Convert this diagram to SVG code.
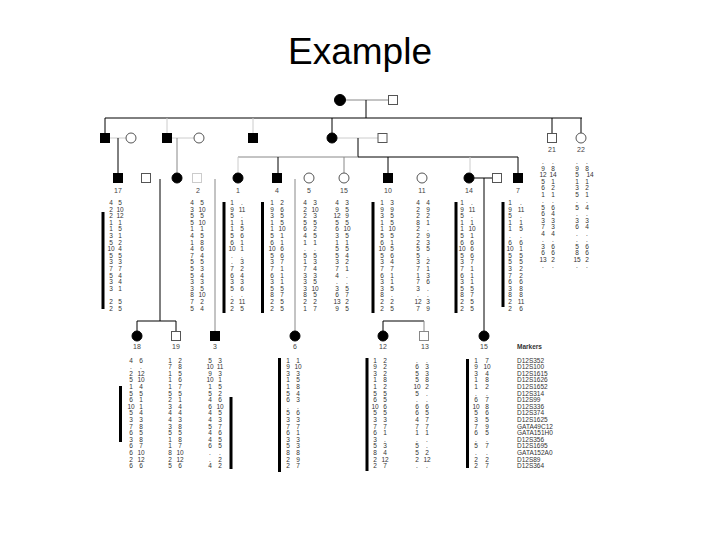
<svg xmlns="http://www.w3.org/2000/svg" width="720" height="540" viewBox="0 0 720 540">
<style>
.t{font-family:"Liberation Sans",Arial,sans-serif;font-size:37px;fill:#000;text-anchor:middle}
.d{font-family:"Liberation Sans",Arial,sans-serif;font-size:6.5px;fill:#333;text-anchor:middle}
.m{font-family:"Liberation Sans",Arial,sans-serif;font-size:6.5px;fill:#333}
.l{font-family:"Liberation Sans",Arial,sans-serif;font-size:7px;fill:#444;text-anchor:middle}
.f{fill:#000;stroke:#000;stroke-width:1}
.o{fill:#fff;stroke:#555;stroke-width:1}
.k{stroke:#000;stroke-width:1;fill:none}
.g{stroke:#888;stroke-width:1;fill:none}
.lg{stroke:#ccc;stroke-width:1;fill:none}
.bar{fill:#000}
</style>
<rect width="720" height="540" fill="#fff"/>
<text class="t" x="360" y="64">Example</text>

<g id="connectors">
<line class="g" x1="346" y1="100" x2="388" y2="100"/>
<line class="k" x1="366" y1="100" x2="366" y2="118"/>
<line class="k" x1="105" y1="118" x2="582" y2="118"/>
<line class="k" x1="105" y1="118" x2="105" y2="133"/>
<line class="lg" x1="167" y1="118" x2="167" y2="133"/>
<line class="lg" x1="253" y1="118" x2="253" y2="133"/>
<line class="k" x1="332" y1="118" x2="332" y2="133"/>
<line class="k" x1="552" y1="118" x2="552" y2="133"/>
<line class="k" x1="581" y1="118" x2="581" y2="133"/>
<line class="lg" x1="110" y1="138" x2="126" y2="138"/>
<line class="lg" x1="172" y1="138" x2="194" y2="138"/>
<line class="lg" x1="337" y1="138" x2="378" y2="138"/>
<line class="k" x1="118" y1="138" x2="118" y2="174"/>
<line class="g" x1="177" y1="138" x2="177" y2="173"/>
<line class="k" x1="358" y1="138" x2="358" y2="157"/>
<line class="g" x1="238" y1="157" x2="358" y2="157"/>
<line class="k" x1="358" y1="157" x2="518" y2="157"/>
<line class="lg" x1="238" y1="157" x2="238" y2="173"/>
<line class="k" x1="278" y1="157" x2="278" y2="174"/>
<line class="g" x1="344" y1="157" x2="344" y2="173"/>
<line class="k" x1="388" y1="157" x2="388" y2="174"/>
<line class="lg" x1="470" y1="157" x2="470" y2="173"/>
<line class="k" x1="518" y1="157" x2="518" y2="174"/>
<line class="k" x1="474" y1="178" x2="493" y2="178"/>
<line class="k" x1="484" y1="178" x2="484" y2="331"/>
<line class="k" x1="160" y1="179" x2="160" y2="321"/>
<line class="k" x1="137" y1="321" x2="176" y2="321"/>
<line class="k" x1="137" y1="321" x2="137" y2="331"/>
<line class="k" x1="176" y1="321" x2="176" y2="332"/>
<line class="g" x1="215" y1="179" x2="215" y2="332"/>
<line class="g" x1="295" y1="179" x2="295" y2="331"/>
<line class="k" x1="383" y1="321" x2="383" y2="331"/>
<line class="k" x1="383" y1="321" x2="424" y2="321"/>
<line class="g" x1="424" y1="321" x2="424" y2="332"/>
</g>

<g id="gen1">
<circle class="f" cx="340" cy="100" r="5.5"/>
<rect class="o" x="388.5" y="95.5" width="9" height="9"/>
</g>

<g id="gen2">
<rect class="f" x="100.5" y="133.5" width="9" height="9"/>
<circle class="o" cx="131" cy="138" r="5"/>
<rect class="f" x="162.5" y="133.5" width="9" height="9"/>
<circle class="o" cx="199" cy="138" r="5"/>
<rect class="f" x="248.5" y="133.5" width="9" height="9"/>
<circle class="f" cx="332" cy="138" r="5"/>
<rect class="o" x="378" y="133.5" width="9" height="9"/>
<g id="p21"><rect class="o" x="547.5" y="133.5" width="9" height="9"/><text class="l" x="552" y="152">21</text>
<text class="d"><tspan x="543" y="164">.</tspan><tspan x="543" dy="6.5">9</tspan><tspan x="543" dy="6.5">12</tspan><tspan x="543" dy="6.5">5</tspan><tspan x="543" dy="6.5">6</tspan><tspan x="543" dy="6.5">1</tspan><tspan x="543" dy="6.5">.</tspan><tspan x="543" dy="6.5">5</tspan><tspan x="543" dy="6.5">6</tspan><tspan x="543" dy="6.5">3</tspan><tspan x="543" dy="6.5">7</tspan><tspan x="543" dy="6.5">4</tspan><tspan x="543" dy="6.5">.</tspan><tspan x="543" dy="6.5">3</tspan><tspan x="543" dy="6.5">6</tspan><tspan x="543" dy="6.5">13</tspan><tspan x="543" dy="6.5">.</tspan></text>
<text class="d"><tspan x="553" y="164">.</tspan><tspan x="553" dy="6.5">8</tspan><tspan x="553" dy="6.5">14</tspan><tspan x="553" dy="6.5">1</tspan><tspan x="553" dy="6.5">2</tspan><tspan x="553" dy="6.5">1</tspan><tspan x="553" dy="6.5">.</tspan><tspan x="553" dy="6.5">6</tspan><tspan x="553" dy="6.5">4</tspan><tspan x="553" dy="6.5">3</tspan><tspan x="553" dy="6.5">3</tspan><tspan x="553" dy="6.5">4</tspan><tspan x="553" dy="6.5">.</tspan><tspan x="553" dy="6.5">6</tspan><tspan x="553" dy="6.5">6</tspan><tspan x="553" dy="6.5">2</tspan><tspan x="553" dy="6.5">.</tspan></text></g>
<g id="p22"><circle class="o" cx="581" cy="138" r="5"/><text class="l" x="581" y="152">22</text>
<text class="d"><tspan x="577" y="164">.</tspan><tspan x="577" dy="6.5">9</tspan><tspan x="577" dy="6.5">5</tspan><tspan x="577" dy="6.5">1</tspan><tspan x="577" dy="6.5">3</tspan><tspan x="577" dy="6.5">5</tspan><tspan x="577" dy="6.5">.</tspan><tspan x="577" dy="6.5">5</tspan><tspan x="577" dy="6.5">.</tspan><tspan x="577" dy="6.5">3</tspan><tspan x="577" dy="6.5">6</tspan><tspan x="577" dy="6.5">.</tspan><tspan x="577" dy="6.5">.</tspan><tspan x="577" dy="6.5">5</tspan><tspan x="577" dy="6.5">8</tspan><tspan x="577" dy="6.5">15</tspan><tspan x="577" dy="6.5">.</tspan></text>
<text class="d"><tspan x="587" y="164">.</tspan><tspan x="587" dy="6.5">8</tspan><tspan x="590" dy="6.5">14</tspan><tspan x="587" dy="6.5">1</tspan><tspan x="587" dy="6.5">2</tspan><tspan x="587" dy="6.5">1</tspan><tspan x="587" dy="6.5">.</tspan><tspan x="587" dy="6.5">4</tspan><tspan x="587" dy="6.5">.</tspan><tspan x="587" dy="6.5">3</tspan><tspan x="587" dy="6.5">4</tspan><tspan x="587" dy="6.5">.</tspan><tspan x="587" dy="6.5">.</tspan><tspan x="587" dy="6.5">6</tspan><tspan x="587" dy="6.5">6</tspan><tspan x="587" dy="6.5">2</tspan><tspan x="587" dy="6.5">.</tspan></text></g>
</g>

<g id="gen3">
<g id="p17"><rect class="f" x="113.5" y="173.5" width="9" height="9"/><text class="l" x="118" y="193">17</text>
<rect class="bar" x="101.5" y="212" width="3" height="97"/>
<text class="d"><tspan x="111" y="205">4</tspan><tspan x="111" dy="6.6">2</tspan><tspan x="111" dy="6.6">2</tspan><tspan x="111" dy="6.6">1</tspan><tspan x="111" dy="6.6">1</tspan><tspan x="111" dy="6.6">3</tspan><tspan x="111" dy="6.6">5</tspan><tspan x="111" dy="6.6">10</tspan><tspan x="111" dy="6.6">5</tspan><tspan x="111" dy="6.6">3</tspan><tspan x="111" dy="6.6">7</tspan><tspan x="111" dy="6.6">5</tspan><tspan x="111" dy="6.6">3</tspan><tspan x="111" dy="6.6">3</tspan><tspan x="111" dy="6.6"> </tspan><tspan x="111" dy="6.6">2</tspan><tspan x="111" dy="6.6">2</tspan></text>
<text class="d"><tspan x="120" y="205">5</tspan><tspan x="120" dy="6.6">10</tspan><tspan x="120" dy="6.6">12</tspan><tspan x="120" dy="6.6">1</tspan><tspan x="120" dy="6.6">5</tspan><tspan x="120" dy="6.6">1</tspan><tspan x="120" dy="6.6">2</tspan><tspan x="120" dy="6.6">4</tspan><tspan x="120" dy="6.6">5</tspan><tspan x="120" dy="6.6">3</tspan><tspan x="120" dy="6.6">7</tspan><tspan x="120" dy="6.6">4</tspan><tspan x="120" dy="6.6">4</tspan><tspan x="120" dy="6.6">1</tspan><tspan x="120" dy="6.6"> </tspan><tspan x="120" dy="6.6">5</tspan><tspan x="120" dy="6.6">5</tspan></text></g>
<rect class="o" x="141.5" y="173.5" width="9" height="9"/>
<circle class="f" cx="177" cy="178" r="5"/>
<g id="p2"><rect class="lg" x="192.5" y="173.5" width="9" height="9"/><text class="l" x="198" y="193">2</text>
<text class="d"><tspan x="192" y="205">4</tspan><tspan x="192" dy="6.6">3</tspan><tspan x="192" dy="6.6">5</tspan><tspan x="192" dy="6.6">5</tspan><tspan x="192" dy="6.6">1</tspan><tspan x="192" dy="6.6">4</tspan><tspan x="192" dy="6.6">1</tspan><tspan x="192" dy="6.6">4</tspan><tspan x="192" dy="6.6">7</tspan><tspan x="192" dy="6.6">5</tspan><tspan x="192" dy="6.6">5</tspan><tspan x="192" dy="6.6">5</tspan><tspan x="192" dy="6.6">3</tspan><tspan x="192" dy="6.6">3</tspan><tspan x="192" dy="6.6">8</tspan><tspan x="192" dy="6.6">7</tspan><tspan x="192" dy="6.6">5</tspan></text>
<text class="d"><tspan x="202" y="205">5</tspan><tspan x="202" dy="6.6">10</tspan><tspan x="202" dy="6.6">5</tspan><tspan x="202" dy="6.6">10</tspan><tspan x="202" dy="6.6">1</tspan><tspan x="202" dy="6.6">5</tspan><tspan x="202" dy="6.6">8</tspan><tspan x="202" dy="6.6">6</tspan><tspan x="202" dy="6.6">4</tspan><tspan x="202" dy="6.6">5</tspan><tspan x="202" dy="6.6">3</tspan><tspan x="202" dy="6.6">4</tspan><tspan x="202" dy="6.6">3</tspan><tspan x="202" dy="6.6">5</tspan><tspan x="202" dy="6.6">10</tspan><tspan x="202" dy="6.6">2</tspan><tspan x="202" dy="6.6">4</tspan></text></g>
<g id="p1"><circle class="f" cx="238" cy="178" r="5"/><text class="l" x="238" y="193">1</text>
<rect class="bar" x="222.5" y="202" width="3" height="111"/>
<text class="d"><tspan x="232" y="205">1</tspan><tspan x="232" dy="6.6">9</tspan><tspan x="232" dy="6.6">5</tspan><tspan x="232" dy="6.6">1</tspan><tspan x="232" dy="6.6">1</tspan><tspan x="232" dy="6.6">5</tspan><tspan x="232" dy="6.6">6</tspan><tspan x="232" dy="6.6">10</tspan><tspan x="232" dy="6.6">.</tspan><tspan x="232" dy="6.6">.</tspan><tspan x="232" dy="6.6">7</tspan><tspan x="232" dy="6.6">6</tspan><tspan x="232" dy="6.6">3</tspan><tspan x="232" dy="6.6">5</tspan><tspan x="232" dy="6.6">.</tspan><tspan x="232" dy="6.6">2</tspan><tspan x="232" dy="6.6">2</tspan></text>
<text class="d"><tspan x="242" y="205">.</tspan><tspan x="242" dy="6.6">11</tspan><tspan x="242" dy="6.6">.</tspan><tspan x="242" dy="6.6">1</tspan><tspan x="242" dy="6.6">5</tspan><tspan x="242" dy="6.6">6</tspan><tspan x="242" dy="6.6">1</tspan><tspan x="242" dy="6.6">1</tspan><tspan x="242" dy="6.6">.</tspan><tspan x="242" dy="6.6">3</tspan><tspan x="242" dy="6.6">2</tspan><tspan x="242" dy="6.6">4</tspan><tspan x="242" dy="6.6">3</tspan><tspan x="242" dy="6.6">6</tspan><tspan x="242" dy="6.6">.</tspan><tspan x="242" dy="6.6">11</tspan><tspan x="242" dy="6.6">5</tspan></text></g>
<g id="p4"><rect class="f" x="272.5" y="173.5" width="9" height="9"/><text class="l" x="277" y="193">4</text>
<rect class="bar" x="261" y="202" width="3" height="111"/>
<text class="d"><tspan x="272" y="205">1</tspan><tspan x="272" dy="6.6">9</tspan><tspan x="272" dy="6.6">3</tspan><tspan x="272" dy="6.6">1</tspan><tspan x="272" dy="6.6">1</tspan><tspan x="272" dy="6.6">5</tspan><tspan x="272" dy="6.6">6</tspan><tspan x="272" dy="6.6">10</tspan><tspan x="272" dy="6.6">5</tspan><tspan x="272" dy="6.6">3</tspan><tspan x="272" dy="6.6">7</tspan><tspan x="272" dy="6.6">6</tspan><tspan x="272" dy="6.6">3</tspan><tspan x="272" dy="6.6">5</tspan><tspan x="272" dy="6.6">8</tspan><tspan x="272" dy="6.6">2</tspan><tspan x="272" dy="6.6">2</tspan></text>
<text class="d"><tspan x="282" y="205">2</tspan><tspan x="282" dy="6.6">6</tspan><tspan x="282" dy="6.6">5</tspan><tspan x="282" dy="6.6">5</tspan><tspan x="282" dy="6.6">10</tspan><tspan x="282" dy="6.6">1</tspan><tspan x="282" dy="6.6">1</tspan><tspan x="282" dy="6.6">6</tspan><tspan x="282" dy="6.6">6</tspan><tspan x="282" dy="6.6">7</tspan><tspan x="282" dy="6.6">1</tspan><tspan x="282" dy="6.6">1</tspan><tspan x="282" dy="6.6">1</tspan><tspan x="282" dy="6.6">5</tspan><tspan x="282" dy="6.6">7</tspan><tspan x="282" dy="6.6">5</tspan><tspan x="282" dy="6.6">5</tspan></text></g>
<g id="p5"><circle class="o" cx="309" cy="178" r="5"/><text class="l" x="309" y="193">5</text>
<text class="d"><tspan x="305" y="205">4</tspan><tspan x="305" dy="6.6">2</tspan><tspan x="305" dy="6.6">2</tspan><tspan x="305" dy="6.6">5</tspan><tspan x="305" dy="6.6">6</tspan><tspan x="305" dy="6.6">4</tspan><tspan x="305" dy="6.6">1</tspan><tspan x="305" dy="6.6">.</tspan><tspan x="305" dy="6.6">5</tspan><tspan x="305" dy="6.6">1</tspan><tspan x="305" dy="6.6">7</tspan><tspan x="305" dy="6.6">3</tspan><tspan x="305" dy="6.6">3</tspan><tspan x="305" dy="6.6">3</tspan><tspan x="305" dy="6.6">8</tspan><tspan x="305" dy="6.6">2</tspan><tspan x="305" dy="6.6">1</tspan></text>
<text class="d"><tspan x="315" y="205">3</tspan><tspan x="315" dy="6.6">10</tspan><tspan x="315" dy="6.6">3</tspan><tspan x="315" dy="6.6">5</tspan><tspan x="315" dy="6.6">2</tspan><tspan x="315" dy="6.6">5</tspan><tspan x="315" dy="6.6">1</tspan><tspan x="315" dy="6.6">.</tspan><tspan x="315" dy="6.6">5</tspan><tspan x="315" dy="6.6">3</tspan><tspan x="315" dy="6.6">4</tspan><tspan x="315" dy="6.6">3</tspan><tspan x="315" dy="6.6">5</tspan><tspan x="315" dy="6.6">10</tspan><tspan x="315" dy="6.6">5</tspan><tspan x="315" dy="6.6">2</tspan><tspan x="315" dy="6.6">7</tspan></text></g>
<g id="p15a"><circle class="o" cx="344" cy="178" r="5"/><text class="l" x="344" y="193">15</text>
<text class="d"><tspan x="337" y="205">4</tspan><tspan x="337" dy="6.6">9</tspan><tspan x="337" dy="6.6">12</tspan><tspan x="337" dy="6.6">5</tspan><tspan x="337" dy="6.6">6</tspan><tspan x="337" dy="6.6">3</tspan><tspan x="337" dy="6.6">1</tspan><tspan x="337" dy="6.6">5</tspan><tspan x="337" dy="6.6">5</tspan><tspan x="337" dy="6.6">3</tspan><tspan x="337" dy="6.6">7</tspan><tspan x="337" dy="6.6">4</tspan><tspan x="337" dy="6.6">.</tspan><tspan x="337" dy="6.6">3</tspan><tspan x="337" dy="6.6">6</tspan><tspan x="337" dy="6.6">13</tspan><tspan x="337" dy="6.6">9</tspan></text>
<text class="d"><tspan x="347" y="205">3</tspan><tspan x="347" dy="6.6">5</tspan><tspan x="347" dy="6.6">9</tspan><tspan x="347" dy="6.6">5</tspan><tspan x="347" dy="6.6">10</tspan><tspan x="347" dy="6.6">5</tspan><tspan x="347" dy="6.6">1</tspan><tspan x="347" dy="6.6">5</tspan><tspan x="347" dy="6.6">4</tspan><tspan x="347" dy="6.6">2</tspan><tspan x="347" dy="6.6">1</tspan><tspan x="347" dy="6.6">.</tspan><tspan x="347" dy="6.6">.</tspan><tspan x="347" dy="6.6">5</tspan><tspan x="347" dy="6.6">7</tspan><tspan x="347" dy="6.6">2</tspan><tspan x="347" dy="6.6">5</tspan></text></g>
<g id="p10"><rect class="f" x="383.5" y="173.5" width="9" height="9"/><text class="l" x="388" y="193">10</text>
<rect class="bar" x="371.5" y="202" width="3" height="111"/>
<text class="d"><tspan x="382" y="205">1</tspan><tspan x="382" dy="6.6">9</tspan><tspan x="382" dy="6.6">3</tspan><tspan x="382" dy="6.6">1</tspan><tspan x="382" dy="6.6">1</tspan><tspan x="382" dy="6.6">5</tspan><tspan x="382" dy="6.6">6</tspan><tspan x="382" dy="6.6">10</tspan><tspan x="382" dy="6.6">5</tspan><tspan x="382" dy="6.6">3</tspan><tspan x="382" dy="6.6">7</tspan><tspan x="382" dy="6.6">6</tspan><tspan x="382" dy="6.6">3</tspan><tspan x="382" dy="6.6">3</tspan><tspan x="382" dy="6.6">8</tspan><tspan x="382" dy="6.6">2</tspan><tspan x="382" dy="6.6">2</tspan></text>
<text class="d"><tspan x="392" y="205">3</tspan><tspan x="392" dy="6.6">9</tspan><tspan x="392" dy="6.6">5</tspan><tspan x="392" dy="6.6">5</tspan><tspan x="392" dy="6.6">10</tspan><tspan x="392" dy="6.6">5</tspan><tspan x="392" dy="6.6">1</tspan><tspan x="392" dy="6.6">5</tspan><tspan x="392" dy="6.6">6</tspan><tspan x="392" dy="6.6">4</tspan><tspan x="392" dy="6.6">7</tspan><tspan x="392" dy="6.6">1</tspan><tspan x="392" dy="6.6">1</tspan><tspan x="392" dy="6.6">5</tspan><tspan x="392" dy="6.6">.</tspan><tspan x="392" dy="6.6">2</tspan><tspan x="392" dy="6.6">5</tspan></text></g>
<g id="p11"><circle class="o" cx="422" cy="178" r="5"/><text class="l" x="422" y="193">11</text>
<text class="d"><tspan x="418" y="205">4</tspan><tspan x="418" dy="6.6">2</tspan><tspan x="418" dy="6.6">2</tspan><tspan x="418" dy="6.6">8</tspan><tspan x="418" dy="6.6">2</tspan><tspan x="418" dy="6.6">2</tspan><tspan x="418" dy="6.6">2</tspan><tspan x="418" dy="6.6">5</tspan><tspan x="418" dy="6.6">5</tspan><tspan x="418" dy="6.6">3</tspan><tspan x="418" dy="6.6">7</tspan><tspan x="418" dy="6.6">1</tspan><tspan x="418" dy="6.6">7</tspan><tspan x="418" dy="6.6">3</tspan><tspan x="418" dy="6.6">.</tspan><tspan x="418" dy="6.6">12</tspan><tspan x="418" dy="6.6">7</tspan></text>
<text class="d"><tspan x="428" y="205">4</tspan><tspan x="428" dy="6.6">9</tspan><tspan x="428" dy="6.6">2</tspan><tspan x="428" dy="6.6">1</tspan><tspan x="428" dy="6.6">.</tspan><tspan x="428" dy="6.6">9</tspan><tspan x="428" dy="6.6">3</tspan><tspan x="428" dy="6.6">5</tspan><tspan x="428" dy="6.6">.</tspan><tspan x="428" dy="6.6">2</tspan><tspan x="428" dy="6.6">1</tspan><tspan x="428" dy="6.6">3</tspan><tspan x="428" dy="6.6">6</tspan><tspan x="428" dy="6.6">.</tspan><tspan x="428" dy="6.6">.</tspan><tspan x="428" dy="6.6">3</tspan><tspan x="428" dy="6.6">9</tspan></text></g>
<g id="p14"><circle class="f" cx="469" cy="178" r="5"/><text class="l" x="469" y="193">14</text>
<rect class="bar" x="454.5" y="202" width="3" height="111"/>
<text class="d"><tspan x="462" y="205">1</tspan><tspan x="462" dy="6.6">9</tspan><tspan x="462" dy="6.6">5</tspan><tspan x="462" dy="6.6">1</tspan><tspan x="462" dy="6.6">1</tspan><tspan x="462" dy="6.6">5</tspan><tspan x="462" dy="6.6">6</tspan><tspan x="462" dy="6.6">10</tspan><tspan x="462" dy="6.6">5</tspan><tspan x="462" dy="6.6">3</tspan><tspan x="462" dy="6.6">7</tspan><tspan x="462" dy="6.6">6</tspan><tspan x="462" dy="6.6">3</tspan><tspan x="462" dy="6.6">5</tspan><tspan x="462" dy="6.6">8</tspan><tspan x="462" dy="6.6">2</tspan><tspan x="462" dy="6.6">2</tspan></text>
<text class="d"><tspan x="472" y="205">.</tspan><tspan x="472" dy="6.6">11</tspan><tspan x="472" dy="6.6">.</tspan><tspan x="472" dy="6.6">1</tspan><tspan x="472" dy="6.6">10</tspan><tspan x="472" dy="6.6">1</tspan><tspan x="472" dy="6.6">6</tspan><tspan x="472" dy="6.6">6</tspan><tspan x="472" dy="6.6">6</tspan><tspan x="472" dy="6.6">7</tspan><tspan x="472" dy="6.6">1</tspan><tspan x="472" dy="6.6">1</tspan><tspan x="472" dy="6.6">1</tspan><tspan x="472" dy="6.6">5</tspan><tspan x="472" dy="6.6">7</tspan><tspan x="472" dy="6.6">5</tspan><tspan x="472" dy="6.6">5</tspan></text></g>
<rect class="o" x="492.5" y="173.5" width="9" height="9"/>
<g id="p7"><rect class="f" x="513.5" y="173.5" width="9" height="9"/><text class="l" x="518" y="193">7</text>
<rect class="bar" x="501.5" y="202" width="3" height="105"/>
<text class="d"><tspan x="510" y="205">1</tspan><tspan x="510" dy="6.6">9</tspan><tspan x="510" dy="6.6">5</tspan><tspan x="510" dy="6.6">1</tspan><tspan x="510" dy="6.6">1</tspan><tspan x="510" dy="6.6">.</tspan><tspan x="510" dy="6.6">6</tspan><tspan x="510" dy="6.6">10</tspan><tspan x="510" dy="6.6">5</tspan><tspan x="510" dy="6.6">5</tspan><tspan x="510" dy="6.6">3</tspan><tspan x="510" dy="6.6">7</tspan><tspan x="510" dy="6.6">6</tspan><tspan x="510" dy="6.6">3</tspan><tspan x="510" dy="6.6">8</tspan><tspan x="510" dy="6.6">2</tspan><tspan x="510" dy="6.6">2</tspan></text>
<text class="d"><tspan x="521" y="205">.</tspan><tspan x="521" dy="6.6">11</tspan><tspan x="521" dy="6.6">.</tspan><tspan x="521" dy="6.6">1</tspan><tspan x="521" dy="6.6">5</tspan><tspan x="521" dy="6.6">.</tspan><tspan x="521" dy="6.6">6</tspan><tspan x="521" dy="6.6">1</tspan><tspan x="521" dy="6.6">5</tspan><tspan x="521" dy="6.6">5</tspan><tspan x="521" dy="6.6">2</tspan><tspan x="521" dy="6.6">2</tspan><tspan x="521" dy="6.6">6</tspan><tspan x="521" dy="6.6">8</tspan><tspan x="521" dy="6.6">8</tspan><tspan x="521" dy="6.6">11</tspan><tspan x="521" dy="6.6">6</tspan></text></g>
</g>

<g id="gen4">
<g id="p18"><circle class="f" cx="137" cy="336" r="5"/><text class="l" x="137" y="349">18</text>
<rect class="bar" x="119" y="386" width="3" height="56"/>
<text class="d"><tspan x="131" y="362.5">4</tspan><tspan x="131" dy="6.6">.</tspan><tspan x="131" dy="6.6">2</tspan><tspan x="131" dy="6.6">5</tspan><tspan x="131" dy="6.6">1</tspan><tspan x="131" dy="6.6">5</tspan><tspan x="131" dy="6.6">6</tspan><tspan x="131" dy="6.6">10</tspan><tspan x="131" dy="6.6">5</tspan><tspan x="131" dy="6.6">3</tspan><tspan x="131" dy="6.6">7</tspan><tspan x="131" dy="6.6">6</tspan><tspan x="131" dy="6.6">3</tspan><tspan x="131" dy="6.6">6</tspan><tspan x="131" dy="6.6">6</tspan><tspan x="131" dy="6.6">2</tspan><tspan x="131" dy="6.6">6</tspan></text>
<text class="d"><tspan x="141" y="362.5">6</tspan><tspan x="141" dy="6.6">.</tspan><tspan x="141" dy="6.6">12</tspan><tspan x="141" dy="6.6">10</tspan><tspan x="141" dy="6.6">4</tspan><tspan x="141" dy="6.6">5</tspan><tspan x="141" dy="6.6">1</tspan><tspan x="141" dy="6.6">1</tspan><tspan x="141" dy="6.6">4</tspan><tspan x="141" dy="6.6">3</tspan><tspan x="141" dy="6.6">8</tspan><tspan x="141" dy="6.6">5</tspan><tspan x="141" dy="6.6">8</tspan><tspan x="141" dy="6.6">7</tspan><tspan x="141" dy="6.6">10</tspan><tspan x="141" dy="6.6">12</tspan><tspan x="141" dy="6.6">6</tspan></text></g>
<g id="p19"><rect class="o" x="171.5" y="331.5" width="9" height="9"/><text class="l" x="176" y="349">19</text>
<text class="d"><tspan x="170" y="362.5">1</tspan><tspan x="170" dy="6.6">7</tspan><tspan x="170" dy="6.6">1</tspan><tspan x="170" dy="6.6">1</tspan><tspan x="170" dy="6.6">1</tspan><tspan x="170" dy="6.6">5</tspan><tspan x="170" dy="6.6">2</tspan><tspan x="170" dy="6.6">3</tspan><tspan x="170" dy="6.6">4</tspan><tspan x="170" dy="6.6">4</tspan><tspan x="170" dy="6.6">3</tspan><tspan x="170" dy="6.6">5</tspan><tspan x="170" dy="6.6">1</tspan><tspan x="170" dy="6.6">1</tspan><tspan x="170" dy="6.6">8</tspan><tspan x="170" dy="6.6">2</tspan><tspan x="170" dy="6.6">5</tspan></text>
<text class="d"><tspan x="180" y="362.5">2</tspan><tspan x="180" dy="6.6">8</tspan><tspan x="180" dy="6.6">5</tspan><tspan x="180" dy="6.6">6</tspan><tspan x="180" dy="6.6">7</tspan><tspan x="180" dy="6.6">5</tspan><tspan x="180" dy="6.6">1</tspan><tspan x="180" dy="6.6">4</tspan><tspan x="180" dy="6.6">4</tspan><tspan x="180" dy="6.6">3</tspan><tspan x="180" dy="6.6">8</tspan><tspan x="180" dy="6.6">5</tspan><tspan x="180" dy="6.6">8</tspan><tspan x="180" dy="6.6">7</tspan><tspan x="180" dy="6.6">10</tspan><tspan x="180" dy="6.6">12</tspan><tspan x="180" dy="6.6">6</tspan></text></g>
<g id="p3"><rect class="f" x="210.5" y="331.5" width="9" height="9"/><text class="l" x="215" y="349">3</text>
<rect class="bar" x="229.5" y="397" width="3" height="72"/>
<text class="d"><tspan x="210" y="362.5">5</tspan><tspan x="210" dy="6.6">10</tspan><tspan x="210" dy="6.6">9</tspan><tspan x="210" dy="6.6">10</tspan><tspan x="210" dy="6.6">1</tspan><tspan x="210" dy="6.6">5</tspan><tspan x="210" dy="6.6">4</tspan><tspan x="210" dy="6.6">6</tspan><tspan x="210" dy="6.6">4</tspan><tspan x="210" dy="6.6">4</tspan><tspan x="210" dy="6.6">5</tspan><tspan x="210" dy="6.6">4</tspan><tspan x="210" dy="6.6">4</tspan><tspan x="210" dy="6.6">6</tspan><tspan x="210" dy="6.6">.</tspan><tspan x="210" dy="6.6">.</tspan><tspan x="210" dy="6.6">4</tspan></text>
<text class="d"><tspan x="220" y="362.5">3</tspan><tspan x="220" dy="6.6">11</tspan><tspan x="220" dy="6.6">3</tspan><tspan x="220" dy="6.6">1</tspan><tspan x="220" dy="6.6">5</tspan><tspan x="220" dy="6.6">2</tspan><tspan x="220" dy="6.6">6</tspan><tspan x="220" dy="6.6">10</tspan><tspan x="220" dy="6.6">5</tspan><tspan x="220" dy="6.6">3</tspan><tspan x="220" dy="6.6">7</tspan><tspan x="220" dy="6.6">6</tspan><tspan x="220" dy="6.6">5</tspan><tspan x="220" dy="6.6">5</tspan><tspan x="220" dy="6.6">.</tspan><tspan x="220" dy="6.6">2</tspan><tspan x="220" dy="6.6">2</tspan></text></g>
<g id="p6"><circle class="f" cx="295" cy="336" r="5"/><text class="l" x="295" y="349">6</text>
<rect class="bar" x="278" y="358" width="3" height="114"/>
<text class="d"><tspan x="288" y="362.5">1</tspan><tspan x="288" dy="6.6">9</tspan><tspan x="288" dy="6.6">3</tspan><tspan x="288" dy="6.6">1</tspan><tspan x="288" dy="6.6">1</tspan><tspan x="288" dy="6.6">5</tspan><tspan x="288" dy="6.6">6</tspan><tspan x="288" dy="6.6">.</tspan><tspan x="288" dy="6.6">5</tspan><tspan x="288" dy="6.6">3</tspan><tspan x="288" dy="6.6">7</tspan><tspan x="288" dy="6.6">6</tspan><tspan x="288" dy="6.6">3</tspan><tspan x="288" dy="6.6">5</tspan><tspan x="288" dy="6.6">8</tspan><tspan x="288" dy="6.6">2</tspan><tspan x="288" dy="6.6">2</tspan></text>
<text class="d"><tspan x="298" y="362.5">1</tspan><tspan x="298" dy="6.6">10</tspan><tspan x="298" dy="6.6">3</tspan><tspan x="298" dy="6.6">5</tspan><tspan x="298" dy="6.6">8</tspan><tspan x="298" dy="6.6">4</tspan><tspan x="298" dy="6.6">3</tspan><tspan x="298" dy="6.6">.</tspan><tspan x="298" dy="6.6">6</tspan><tspan x="298" dy="6.6">3</tspan><tspan x="298" dy="6.6">7</tspan><tspan x="298" dy="6.6">1</tspan><tspan x="298" dy="6.6">3</tspan><tspan x="298" dy="6.6">3</tspan><tspan x="298" dy="6.6">8</tspan><tspan x="298" dy="6.6">9</tspan><tspan x="298" dy="6.6">7</tspan></text></g>
<g id="p12"><circle class="f" cx="383" cy="336" r="5"/><text class="l" x="383" y="349">12</text>
<rect class="bar" x="365.5" y="358" width="3" height="113"/>
<text class="d"><tspan x="375" y="362.5">1</tspan><tspan x="375" dy="6.6">9</tspan><tspan x="375" dy="6.6">3</tspan><tspan x="375" dy="6.6">1</tspan><tspan x="375" dy="6.6">1</tspan><tspan x="375" dy="6.6">5</tspan><tspan x="375" dy="6.6">6</tspan><tspan x="375" dy="6.6">10</tspan><tspan x="375" dy="6.6">5</tspan><tspan x="375" dy="6.6">3</tspan><tspan x="375" dy="6.6">7</tspan><tspan x="375" dy="6.6">6</tspan><tspan x="375" dy="6.6">3</tspan><tspan x="375" dy="6.6">5</tspan><tspan x="375" dy="6.6">8</tspan><tspan x="375" dy="6.6">2</tspan><tspan x="375" dy="6.6">2</tspan></text>
<text class="d"><tspan x="385" y="362.5">2</tspan><tspan x="385" dy="6.6">2</tspan><tspan x="385" dy="6.6">2</tspan><tspan x="385" dy="6.6">8</tspan><tspan x="385" dy="6.6">2</tspan><tspan x="385" dy="6.6">5</tspan><tspan x="385" dy="6.6">5</tspan><tspan x="385" dy="6.6">6</tspan><tspan x="385" dy="6.6">5</tspan><tspan x="385" dy="6.6">3</tspan><tspan x="385" dy="6.6">7</tspan><tspan x="385" dy="6.6">1</tspan><tspan x="385" dy="6.6">.</tspan><tspan x="385" dy="6.6">3</tspan><tspan x="385" dy="6.6">4</tspan><tspan x="385" dy="6.6">12</tspan><tspan x="385" dy="6.6">7</tspan></text></g>
<g id="p13"><rect class="g" x="419.5" y="331.5" width="9" height="9"/><text class="l" x="425" y="349">13</text>
<text class="d"><tspan x="417" y="362.5">.</tspan><tspan x="417" dy="6.6">6</tspan><tspan x="417" dy="6.6">5</tspan><tspan x="417" dy="6.6">5</tspan><tspan x="417" dy="6.6">10</tspan><tspan x="417" dy="6.6">5</tspan><tspan x="417" dy="6.6">.</tspan><tspan x="417" dy="6.6">6</tspan><tspan x="417" dy="6.6">6</tspan><tspan x="417" dy="6.6">4</tspan><tspan x="417" dy="6.6">7</tspan><tspan x="417" dy="6.6">1</tspan><tspan x="417" dy="6.6">.</tspan><tspan x="417" dy="6.6">5</tspan><tspan x="417" dy="6.6">5</tspan><tspan x="417" dy="6.6">2</tspan><tspan x="417" dy="6.6">.</tspan></text>
<text class="d"><tspan x="427" y="362.5">.</tspan><tspan x="427" dy="6.6">3</tspan><tspan x="427" dy="6.6">3</tspan><tspan x="427" dy="6.6">8</tspan><tspan x="427" dy="6.6">2</tspan><tspan x="427" dy="6.6">.</tspan><tspan x="427" dy="6.6">.</tspan><tspan x="427" dy="6.6">6</tspan><tspan x="427" dy="6.6">5</tspan><tspan x="427" dy="6.6">7</tspan><tspan x="427" dy="6.6">7</tspan><tspan x="427" dy="6.6">1</tspan><tspan x="427" dy="6.6">.</tspan><tspan x="427" dy="6.6">.</tspan><tspan x="427" dy="6.6">2</tspan><tspan x="427" dy="6.6">12</tspan><tspan x="427" dy="6.6">.</tspan></text></g>
<g id="p15b"><circle class="f" cx="484" cy="336" r="5"/><text class="l" x="484" y="349">15</text>
<rect class="bar" x="466" y="359" width="3" height="109"/>
<text class="d"><tspan x="476" y="362.5">1</tspan><tspan x="476" dy="6.6">9</tspan><tspan x="476" dy="6.6">3</tspan><tspan x="476" dy="6.6">1</tspan><tspan x="476" dy="6.6">1</tspan><tspan x="476" dy="6.6">.</tspan><tspan x="476" dy="6.6">6</tspan><tspan x="476" dy="6.6">10</tspan><tspan x="476" dy="6.6">5</tspan><tspan x="476" dy="6.6">3</tspan><tspan x="476" dy="6.6">7</tspan><tspan x="476" dy="6.6">6</tspan><tspan x="476" dy="6.6">.</tspan><tspan x="476" dy="6.6">5</tspan><tspan x="476" dy="6.6">.</tspan><tspan x="476" dy="6.6">2</tspan><tspan x="476" dy="6.6">2</tspan></text>
<text class="d"><tspan x="487" y="362.5">7</tspan><tspan x="487" dy="6.6">10</tspan><tspan x="487" dy="6.6">4</tspan><tspan x="487" dy="6.6">8</tspan><tspan x="487" dy="6.6">2</tspan><tspan x="487" dy="6.6">.</tspan><tspan x="487" dy="6.6">7</tspan><tspan x="487" dy="6.6">8</tspan><tspan x="487" dy="6.6">6</tspan><tspan x="487" dy="6.6">5</tspan><tspan x="487" dy="6.6">9</tspan><tspan x="487" dy="6.6">5</tspan><tspan x="487" dy="6.6">.</tspan><tspan x="487" dy="6.6">7</tspan><tspan x="487" dy="6.6">.</tspan><tspan x="487" dy="6.6">2</tspan><tspan x="487" dy="6.6">7</tspan></text></g>
<g id="markers"><text class="m" x="517" y="349" font-weight="bold">Markers</text>
<text class="m"><tspan x="517" y="362.5">D12S352</tspan><tspan x="517" dy="6.6">D12S100</tspan><tspan x="517" dy="6.6">D12S1615</tspan><tspan x="517" dy="6.6">D12S1626</tspan><tspan x="517" dy="6.6">D12S1652</tspan><tspan x="517" dy="6.6">D12S314</tspan><tspan x="517" dy="6.6">D12S99</tspan><tspan x="517" dy="6.6">D12S336</tspan><tspan x="517" dy="6.6">D12S374</tspan><tspan x="517" dy="6.6">D12S1625</tspan><tspan x="517" dy="6.6">GATA49C12</tspan><tspan x="517" dy="6.6">GATA151H0</tspan><tspan x="517" dy="6.6">D12S356</tspan><tspan x="517" dy="6.6">D12S1695</tspan><tspan x="517" dy="6.6">GATA152A0</tspan><tspan x="517" dy="6.6">D12S89</tspan><tspan x="517" dy="6.6">D12S364</tspan></text></g>
</g>
</svg>
